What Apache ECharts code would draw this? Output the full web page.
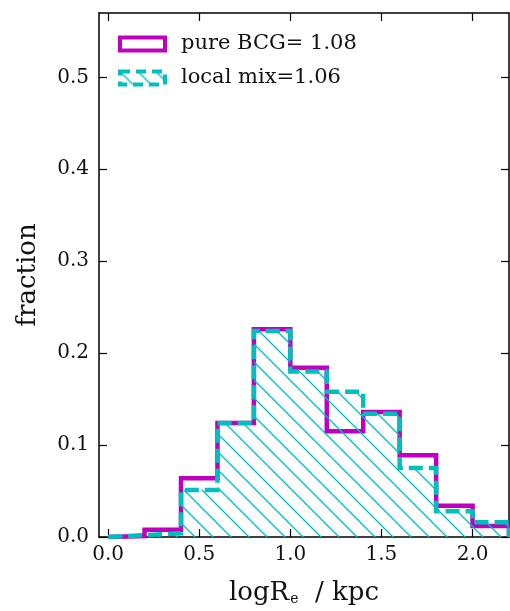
<!DOCTYPE html>
<html>
<head>
<meta charset="utf-8">
<script src="https://cdn.jsdelivr.net/npm/echarts@6/dist/echarts.min.js"></script>
<style>
html,body{margin:0;padding:0;background:#fff;}
#chart{width:510px;height:611px;}
</style>
</head>
<body>
<div id="chart"></div>
<script>
// ---- data ----
const binEdges = [0.0, 0.2, 0.4, 0.6, 0.8, 1.0, 1.2, 1.4, 1.6, 1.8, 2.0, 2.2];
const pureBCG  = [0.001, 0.008, 0.064, 0.124, 0.226, 0.184, 0.115, 0.136, 0.089, 0.034, 0.012];
const localMix = [0.002, 0.004, 0.051, 0.124, 0.224, 0.180, 0.158, 0.134, 0.075, 0.028, 0.016];
const seriesNames = ['pure BCG= 1.08', 'local mix=1.06'];
const xTicks = [0.0, 0.5, 1.0, 1.5, 2.0];
const yTicks = [0.0, 0.1, 0.2, 0.3, 0.4, 0.5];

// build step outline points for a histogram
function stepPoints(vals) {
  const pts = [[binEdges[0], 0]];
  for (let i = 0; i < vals.length; i++) pts.push([binEdges[i], vals[i]]);
  pts.push([binEdges[vals.length], vals[vals.length - 1]]);
  pts.push([binEdges[vals.length], 0]);
  return pts;
}

const MAGENTA = '#bf00bf';
const CYAN = '#00bfbf';
const FONT = "'DejaVu Serif', serif";

// hatch pattern '\\'
function makeHatch(size) {
  const c = document.createElement('canvas');
  c.width = size; c.height = size;
  const ctx = c.getContext('2d');
  ctx.strokeStyle = CYAN;
  ctx.lineWidth = 1.3;
  ctx.beginPath();
  ctx.moveTo(-2, -2); ctx.lineTo(size + 2, size + 2);
  ctx.moveTo(size - 3, -3); ctx.lineTo(size + 3, 3);
  ctx.moveTo(-3, size - 3); ctx.lineTo(3, size + 3);
  ctx.stroke();
  return c;
}
const hatch = { image: makeHatch(18), repeat: 'repeat' };

const chart = echarts.init(document.getElementById('chart'), null, { renderer: 'canvas' });

const axisLineStyle = { color: '#000', width: 1.5 };
const fmt = v => Number(v).toFixed(1);

chart.setOption({
  animation: false,
  backgroundColor: '#fff',
  grid: { left: 99, right: 1, top: 13, bottom: 74, containLabel: false, outerBoundsMode: 'none' },
  legend: {
    orient: 'vertical',
    left: 118,
    top: 33,
    padding: 0,
    itemWidth: 45,
    itemHeight: 13,
    itemGap: 12,
    textStyle: { fontFamily: FONT, fontSize: 21, color: '#111', padding: [0, 0, 0, 11], lineHeight: 22 },
    data: [
      { name: seriesNames[0], icon: 'rect', itemStyle: { color: 'rgba(0,0,0,0)', borderColor: MAGENTA, borderWidth: 4 } },
      { name: seriesNames[1], icon: 'rect', itemStyle: { color: hatch, borderColor: CYAN, borderWidth: 4, borderType: [10, 6] } }
    ]
  },
  xAxis: [
    {
      type: 'value', min: -0.05, max: 2.2, position: 'bottom',
      name: 'logR{sub|e}  / kpc',
      nameLocation: 'middle', nameGap: 43,
      nameTextStyle: {
        fontFamily: FONT, fontSize: 26, color: '#111',
        rich: { sub: { fontFamily: FONT, fontSize: 14, color: '#111', verticalAlign: 'bottom', padding: [12, 0, 0, 1] } }
      },
      axisLine: { show: true, onZero: false, lineStyle: axisLineStyle },
      axisTick: { show: true, inside: true, length: 8, lineStyle: { color: '#000', width: 1.2 }, customValues: xTicks },
      axisLabel: { show: true, fontFamily: FONT, fontSize: 20, color: '#111', margin: 8, formatter: fmt, customValues: xTicks },
      splitLine: { show: false }
    },
    {
      type: 'value', min: -0.05, max: 2.2, position: 'top',
      axisLine: { show: true, onZero: false, lineStyle: axisLineStyle },
      axisTick: { show: true, inside: true, length: 8, lineStyle: { color: '#000', width: 1.2 }, customValues: xTicks },
      axisLabel: { show: false },
      splitLine: { show: false }
    }
  ],
  yAxis: [
    {
      type: 'value', min: 0, max: 0.57, position: 'left',
      name: 'fraction', nameLocation: 'middle', nameGap: 58, nameRotate: 90,
      nameTextStyle: { fontFamily: FONT, fontSize: 26, color: '#111' },
      axisLine: { show: true, onZero: false, lineStyle: axisLineStyle },
      axisTick: { show: true, inside: true, length: 8, lineStyle: { color: '#000', width: 1.2 }, customValues: yTicks },
      axisLabel: { show: true, fontFamily: FONT, fontSize: 20, color: '#111', margin: 10, formatter: fmt, customValues: yTicks },
      splitLine: { show: false }
    },
    {
      type: 'value', min: 0, max: 0.57, position: 'right',
      axisLine: { show: true, onZero: false, lineStyle: axisLineStyle },
      axisTick: { show: true, inside: true, length: 8, lineStyle: { color: '#000', width: 1.2 }, customValues: yTicks },
      axisLabel: { show: false },
      splitLine: { show: false }
    }
  ],
  series: [
    {
      name: seriesNames[0], type: 'line', step: 'end',
      xAxisIndex: 0, yAxisIndex: 0,
      data: stepPoints(pureBCG),
      showSymbol: false, symbol: 'none',
      lineStyle: { color: MAGENTA, width: 4.5, join: 'miter', cap: 'butt' },
      itemStyle: { color: MAGENTA },
      z: 2
    },
    {
      name: seriesNames[1], type: 'line', step: 'end',
      xAxisIndex: 0, yAxisIndex: 0,
      data: stepPoints(localMix),
      showSymbol: false, symbol: 'none',
      lineStyle: { color: CYAN, width: 4.5, type: [14, 6], join: 'miter', cap: 'butt' },
      itemStyle: { color: CYAN },
      areaStyle: { color: hatch, opacity: 1, origin: 'start' },
      z: 3
    }
  ]
});
</script>
</body>
</html>
